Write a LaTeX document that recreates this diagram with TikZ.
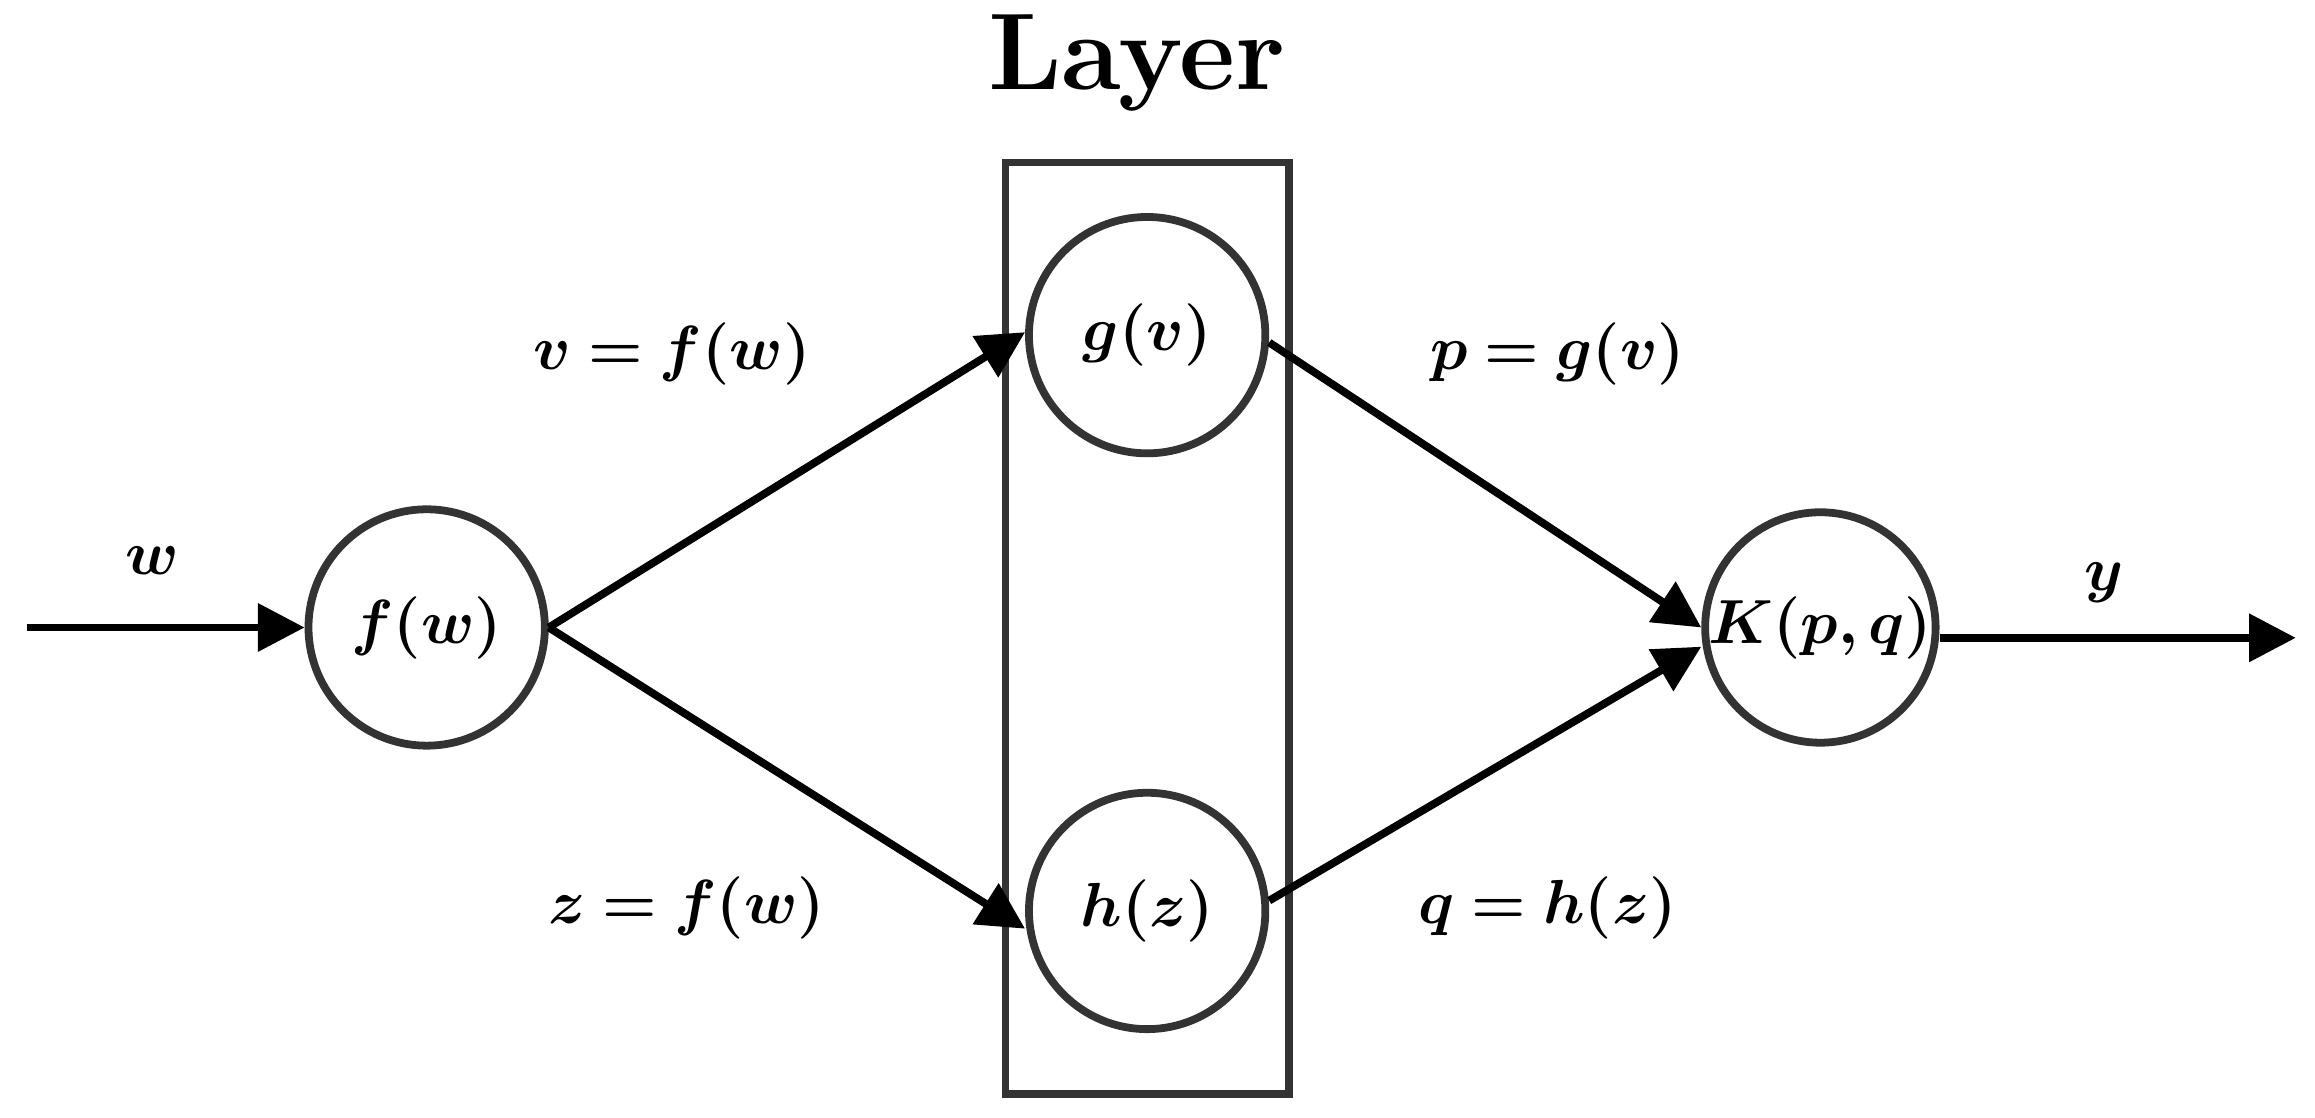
\documentclass[tikz,border=0pt]{standalone}
\usepackage{amsmath,bm}
\usetikzlibrary{arrows.meta}
\begin{document}
\begin{tikzpicture}[x=0.01cm,y=-0.01cm,
  nd/.style={circle,draw=black!80,line width=1.5pt,minimum size=1.6cm,inner sep=0pt,font=\fontsize{13}{15}\selectfont},
  lab/.style={font=\fontsize{13}{15}\selectfont},
  ar/.style={line width=1.5pt,-{Triangle[length=9pt,width=9pt]}}]
\useasboundingbox (0,0) rectangle (1568,757);
\node[font=\fontsize{21}{25}\selectfont\bfseries] (title) at (770,43) {Layer};
\draw[black!80,line width=1.5pt] (681,110) rectangle (873,741);
\node[nd] (f) at (289,425) {$\bm{f(w)}$};
\node[nd] (g) at (777,227) {$\bm{g(v)}$};
\node[nd] (h) at (777,617) {$\bm{h(z)}$};
\node[nd,minimum size=1.56cm] (k) at (1233,425) {\makebox[1.5cm]{$\bm{K(p,q)}$}};
\coordinate (in) at (18,425);
\coordinate (out) at (1555,432);
\draw[ar] (in) -- (f);
\draw[ar] (k.east |- out) -- (out);
\draw[ar] (f.east) -- ([yshift=0.02cm]g.west);
\draw[ar] (f.east) -- ([yshift=-0.12cm]h.west);
\draw[ar] ([yshift=-0.05cm]g.east) -- ([yshift=0.0cm]k.west);
\draw[ar] ([yshift=0.07cm]h.east) -- ([yshift=-0.13cm]k.west);
\node[lab] (lw) at (103,380) {$\bm{w}$};
\node[lab] (ly) at (1425,395) {$\bm{y}$};
\node[lab] (l1) at (455,240) {$\bm{v=f(w)}$};
\node[lab] (l2) at (465,615) {$\bm{z=f(w)}$};
\node[lab] (l3) at (1055,240) {$\bm{p=g(v)}$};
\node[lab] (l4) at (1048,615) {$\bm{q=h(z)}$};
\end{tikzpicture}
\end{document}
